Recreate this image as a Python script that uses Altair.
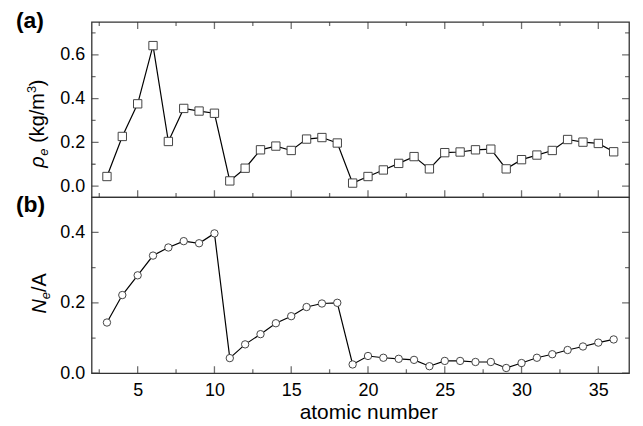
import altair as alt
import pandas as pd

# ---------------- data ----------------
Z = list(range(3, 37))
rho_e = [0.044, 0.227, 0.376, 0.642, 0.204, 0.355, 0.343, 0.333, 0.024, 0.082,
         0.166, 0.183, 0.163, 0.215, 0.222, 0.197, 0.014, 0.044, 0.074, 0.104,
         0.135, 0.079, 0.153, 0.156, 0.166, 0.169, 0.079, 0.121, 0.142, 0.163,
         0.213, 0.201, 0.195, 0.157]
ne_a = [0.144, 0.222, 0.278, 0.334, 0.357, 0.375, 0.369, 0.397, 0.043, 0.082,
        0.111, 0.142, 0.162, 0.188, 0.198, 0.200, 0.025, 0.049, 0.044, 0.041,
        0.038, 0.020, 0.035, 0.035, 0.032, 0.032, 0.015, 0.029, 0.044, 0.054,
        0.066, 0.076, 0.087, 0.096]

x_major = [5, 10, 15, 20, 25, 30, 35]
x_minor = [2.5, 7.5, 12.5, 17.5, 22.5, 27.5, 32.5]
rho_major = [0.0, 0.2, 0.4, 0.6]
rho_minor = [0.1, 0.3, 0.5, 0.7]
ne_major = [0.0, 0.2, 0.4]
ne_minor = [0.1, 0.3]

# ---------------- styling ----------------
W = 540
H_TOP = 176
H_BOT = 177
FONT = "Liberation Sans"
FRAME = "#333333"

df = pd.DataFrame({"Z": Z, "rho": rho_e, "ne": ne_a})
one = pd.DataFrame({"k": [0]})

xs = alt.Scale(domain=[2, 37], nice=False, zero=False)
ys_top = alt.Scale(domain=[-0.05, 0.75], nice=False, zero=False)
ys_bot = alt.Scale(domain=[0, 0.5], nice=False, zero=False)


def yaxis(values):
    return alt.Axis(values=values, format=".1f", ticks=False, tickSize=0,
                    domain=False, grid=False, labelFont=FONT, labelFontSize=18,
                    labelColor="black", labelPadding=7, title=None)


xaxis_b = alt.Axis(values=x_major, ticks=False, tickSize=0, domain=False, grid=False,
                   labelFont=FONT, labelFontSize=18, labelColor="black",
                   labelPadding=8, labelFlush=False,
                   title="atomic number", titleFont=FONT, titleFontSize=21,
                   titleFontWeight="normal", titleColor="black",
                   titleX=278, titleY=45, titleAlign="center",
                   titleBaseline="alphabetic")
ax_top = yaxis(rho_major)
ax_bot = yaxis(ne_major)


def tick_df(major, minor):
    return pd.DataFrame({"pos": major + minor,
                         "major": [True] * len(major) + [False] * len(minor)})


tick_size = alt.condition("datum.major", alt.value(14), alt.value(8))


def xticks(y_px, axis):
    return alt.Chart(tick_df(x_major, x_minor)).mark_tick(
        orient="vertical", clip=True, thickness=1.3, color=FRAME
    ).encode(x=alt.X("pos:Q", scale=xs, axis=axis), y=alt.value(y_px), size=tick_size)


def yticks(major, minor, scale, x_px, axis):
    return alt.Chart(tick_df(major, minor)).mark_tick(
        orient="horizontal", clip=True, thickness=1.3, color=FRAME
    ).encode(y=alt.Y("pos:Q", scale=scale, axis=axis), x=alt.value(x_px), size=tick_size)


def txt(s, x, y, dx=0, dy=0, size=20, style="normal", weight="normal", angle=270):
    return alt.Chart(one).mark_text(
        text=s, angle=angle, align="left", baseline="alphabetic", dx=dx, dy=dy,
        font=FONT, fontSize=size, fontStyle=style, fontWeight=weight, color="black"
    ).encode(x=alt.value(x), y=alt.value(y))


# ---------------- panel (a) ----------------
base_a = alt.Chart(df).encode(
    x=alt.X("Z:Q", scale=xs, axis=None),
    y=alt.Y("rho:Q", scale=ys_top, axis=ax_top),
)
line_a = base_a.mark_line(color="black", strokeWidth=1.2)
pts_a = base_a.mark_point(shape="square", filled=True, fill="white", stroke="#444444",
                          strokeWidth=1, size=70, opacity=1)

ty_a, tx_a = 146.5, -48
title_a = [
    txt("ρ", tx_a, ty_a, dx=0, style="italic"),
    txt("e", tx_a, ty_a, dx=12, dy=4, size=13, style="italic"),
    txt("(kg/m", tx_a, ty_a, dx=25),
    txt("3", tx_a, ty_a, dx=75, dy=-8, size=13),
    txt(")", tx_a, ty_a, dx=82),
]

panel_a = alt.layer(
    line_a, pts_a,
    xticks(0, None), xticks(H_TOP, None),
    yticks(rho_major, rho_minor, ys_top, 0, ax_top),
    yticks(rho_major, rho_minor, ys_top, W, ax_top),
    *title_a,
    txt("(a)", -76, 6, size=23, weight="bold", angle=0),
).properties(width=W, height=H_TOP)

# ---------------- panel (b) ----------------
base_b = alt.Chart(df).encode(
    x=alt.X("Z:Q", scale=xs, axis=xaxis_b),
    y=alt.Y("ne:Q", scale=ys_bot, axis=ax_bot),
)
line_b = base_b.mark_line(color="black", strokeWidth=1.2)
pts_b = base_b.mark_point(shape="circle", filled=True, fill="white", stroke="#444444",
                          strokeWidth=1, size=55, opacity=1)

ty_b, tx_b = 117, -46
title_b = [
    txt("N", tx_b, ty_b, dx=0, style="italic"),
    txt("e", tx_b, ty_b, dx=14.4, dy=4, size=13, style="italic"),
    txt("/A", tx_b, ty_b, dx=21.6),
]

panel_b = alt.layer(
    line_b, pts_b,
    xticks(H_BOT, xaxis_b),
    yticks(ne_major, ne_minor, ys_bot, 0, ax_bot),
    yticks(ne_major, ne_minor, ys_bot, W, ax_bot),
    *title_b,
    txt("(b)", -76, 15, size=23, weight="bold", angle=0),
).properties(width=W, height=H_BOT)

chart = alt.vconcat(panel_a, panel_b, spacing=0).properties(
    bounds="flush",
    padding={"left": 7, "top": 0, "right": 5, "bottom": 5},
).configure_view(stroke=FRAME, strokeWidth=1.3).configure_concat(spacing=0)

chart.save("out.html", embed_options={"renderer": "svg", "actions": False})
